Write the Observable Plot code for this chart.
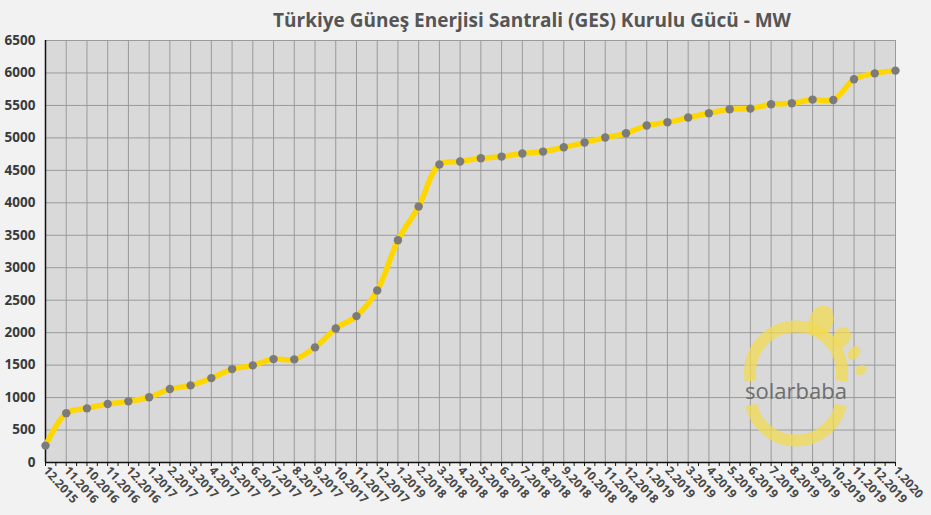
<!DOCTYPE html>
<html><head><meta charset="utf-8">
<script src="https://cdn.jsdelivr.net/npm/d3@7"></script>
<script src="https://cdn.jsdelivr.net/npm/@observablehq/plot@0.6"></script>
<style>
body{margin:0;background:#f2f2f2;}
#wrap{position:relative;width:931px;height:515px;background:#f2f2f2;overflow:hidden;}
#title{position:absolute;left:232px;top:7px;width:600px;text-align:center;font-family:"Open Sans",sans-serif;font-weight:bold;font-size:19px;color:#555;white-space:nowrap;z-index:2;}
#logo{position:absolute;left:0;top:0;pointer-events:none;}
</style></head>
<body>
<div id="wrap">
<div id="title">Türkiye Güneş Enerjisi Santrali (GES) Kurulu Gücü - MW</div>
</div>
<script>
const labels = ["12.2015","11.2016","10.2016","11.2016","12.2016",
"1.2017","2.2017","3.2017","4.2017","5.2017","6.2017","7.2017","8.2017","9.2017","10.2017","11.2017","12.2017",
"1.2019","2.2018","3.2018","4.2018","5.2018","6.2018","7.2018","8.2018","9.2018","10.2018","11.2018","12.2018",
"1.2019","2.2019","3.2019","4.2019","5.2019","6.2019","7.2019","8.2019","9.2019","10.2019","11.2019","12.2019","1.2020"];
const values = [260,760,834,900,942,1005,1131,1188,1300,1439,1496,1593,1588,1773,2065,2255,2650,
3424,3943,4589,4636,4686,4712,4759,4789,4855,4928,5005,5071,5190,5240,5313,5379,5440,5451,5517,5533,5590,5584,5902,5994,6036];
const yTicks = [0,500,1000,1500,2000,2500,3000,3500,4000,4500,5000,5500,6000,6500];

const data = values.map((v,i)=>({i, v, label: labels[i]}));
const idx = labels.map((_,i)=>i);
const half = labels.slice(1).map((_,i)=>i+0.5);

const chart = Plot.plot({
  width:931, height:515,
  marginLeft:45, marginRight:36, marginTop:40, marginBottom:53,
  style:{background:"transparent", fontFamily:"Open Sans, sans-serif", overflow:"visible"},
  x:{type:"linear", domain:[0,41], label:null},
  y:{domain:[0,6500], label:null},
  marks:[
    Plot.frame({fill:"#d9d9d9", stroke:null}),
    Plot.gridX(idx, {stroke:"#9a9a9a", strokeOpacity:1, strokeWidth:1}),
    Plot.gridY(yTicks, {stroke:"#9a9a9a", strokeOpacity:1, strokeWidth:1}),
    Plot.axisX(half, {tickSize:4, tickFormat:()=>"", stroke:"#111", label:null}),
    Plot.axisX(idx, {tickSize:4, tickFormat:i=>labels[i], tickRotate:48, tickPadding:2,
      fontWeight:"bold", fontSize:12, fill:"#474747", stroke:"#111", label:null}),
    Plot.axisY(yTicks, {tickSize:0, tickPadding:10, tickFormat:d=>String(d), fontWeight:"bold", fontSize:13.5, fill:"#3a3a3a", label:null}),
    Plot.ruleY([0], {stroke:"#111", strokeWidth:1.5}),
    Plot.ruleX([0], {stroke:"#111", strokeWidth:1.5}),
    Plot.line(data, {x:"i", y:"v", curve:"catmull-rom", stroke:"#ffd700", strokeWidth:5.5, strokeLinecap:"round"}),
    Plot.dot(data, {x:"i", y:"v", r:4.2, fill:"#7b7b7b", stroke:null})
  ]
});
const wrap = document.getElementById("wrap");
wrap.appendChild(chart);
chart.style.position="absolute";chart.style.left="0";chart.style.top="0";

// watermark logo (decoration)
const ns="http://www.w3.org/2000/svg";
const logo=document.createElementNS(ns,"svg");
logo.setAttribute("id","logo");logo.setAttribute("width","931");logo.setAttribute("height","515");
logo.innerHTML = `
<g fill="none" stroke="#f2da52" stroke-opacity="0.75" stroke-width="12" stroke-linecap="butt">
<path d="M 750.8 381 A 46 46 0 1 1 841.2 381"/>
<path d="M 751.2 405 A 46 46 0 0 0 840.8 405"/>
</g>
<g fill="#f2da52" fill-opacity="0.75">
<ellipse cx="821" cy="321" rx="12" ry="16" transform="rotate(20 821 321)"/>
<ellipse cx="842" cy="337" rx="8.5" ry="10.5" transform="rotate(25 842 337)"/>
<ellipse cx="854" cy="353" rx="5.5" ry="7.5" transform="rotate(35 854 353)"/>
<ellipse cx="861" cy="370" rx="4.5" ry="6" transform="rotate(55 861 370)"/>
</g>
<text x="796" y="399" text-anchor="middle" font-family="Open Sans, sans-serif" font-size="22" fill="#6e6e6e">solarbaba</text>`;
wrap.appendChild(logo);
logo.style.zIndex="1";
</script>
</body></html>
